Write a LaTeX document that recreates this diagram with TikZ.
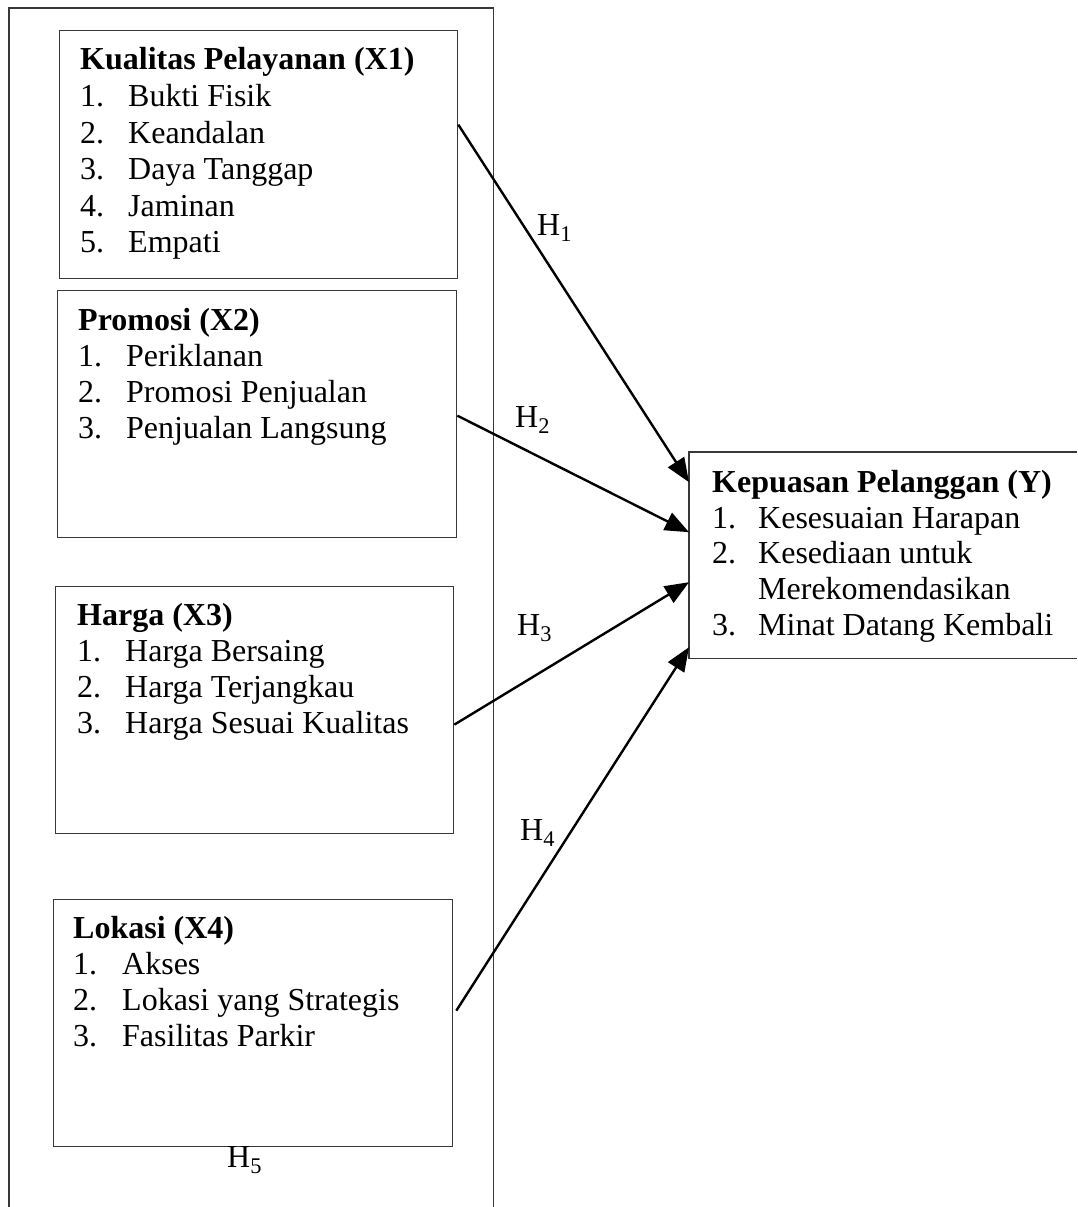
\documentclass[tikz,border=0pt]{standalone}
\usepackage{fontspec}
\setmainfont{Liberation Serif}
\usetikzlibrary{arrows.meta}
\begin{document}
\begin{tikzpicture}[x=1pt,y=-1pt,
  boxline/.style={line width=1.3pt, draw=black!78},
  varbox/.style={boxline, rectangle, inner sep=0pt, anchor=north west},
  lbl/.style={anchor=base west, inner sep=0pt, font=\fontsize{32}{36}\selectfont},
  hd/.style={lbl, font=\fontsize{32}{36}\selectfont\bfseries},
  arr/.style={line width=2.4pt, -{Triangle[length=24pt,width=19pt]}}]
\useasboundingbox[fill=white] (0,0) rectangle (1077,1207);

% outer frame (open at bottom)
\node[inner sep=0pt, anchor=north west, minimum width=484pt, minimum height=1199pt] (outer) at (9,8) {};
\draw[boxline] (outer.south west) -- (outer.north west) -- (outer.north east) -- (outer.south east);

% boxes
\node[varbox, minimum width=398pt, minimum height=248pt] (x1) at (59,30) {};
\node[varbox, minimum width=399pt, minimum height=247pt] (x2) at (57,290) {};
\node[varbox, minimum width=398pt, minimum height=247pt] (x3) at (55,586) {};
\node[varbox, minimum width=399pt, minimum height=247pt] (x4) at (53,899) {};
\node[inner sep=0pt, anchor=north west, minimum width=388pt, minimum height=206pt] (y) at (689,452) {};
\draw[boxline] (y.north east) -- (y.north west) -- (y.south west) -- (y.south east);

% X1 text
\node[hd] (x1h) at (80,70) {Kualitas Pelayanan (X1)};
\node[lbl] (x1n1) at (80,106.5) {1.};  \node[lbl] (x1t1) at (128,106.5) {Bukti Fisik};
\node[lbl] (x1n2) at (80,143) {2.};    \node[lbl] (x1t2) at (128,143) {Keandalan};
\node[lbl] (x1n3) at (80,179.5) {3.};  \node[lbl] (x1t3) at (128,179.5) {Daya Tanggap};
\node[lbl] (x1n4) at (80,216) {4.};    \node[lbl] (x1t4) at (128,216) {Jaminan};
\node[lbl] (x1n5) at (80,252.5) {5.};  \node[lbl] (x1t5) at (128,252.5) {Empati};

% X2 text
\node[hd] (x2h) at (78,330) {Promosi (X2)};
\node[lbl] (x2n1) at (78,366) {1.};  \node[lbl] (x2t1) at (126,366) {Periklanan};
\node[lbl] (x2n2) at (78,402) {2.};  \node[lbl] (x2t2) at (126,402) {Promosi Penjualan};
\node[lbl] (x2n3) at (78,438) {3.};  \node[lbl] (x2t3) at (126,438) {Penjualan Langsung};

% X3 text
\node[hd] (x3h) at (77,625) {Harga (X3)};
\node[lbl] (x3n1) at (77,661) {1.};  \node[lbl] (x3t1) at (125,661) {Harga Bersaing};
\node[lbl] (x3n2) at (77,697) {2.};  \node[lbl] (x3t2) at (125,697) {Harga Terjangkau};
\node[lbl] (x3n3) at (77,733) {3.};  \node[lbl] (x3t3) at (125,733) {Harga Sesuai Kualitas};

% X4 text
\node[hd] (x4h) at (73,938) {Lokasi (X4)};
\node[lbl] (x4n1) at (73,974) {1.};   \node[lbl] (x4t1) at (122,974) {Akses};
\node[lbl] (x4n2) at (73,1010) {2.};  \node[lbl] (x4t2) at (122,1010) {Lokasi yang Strategis};
\node[lbl] (x4n3) at (73,1046) {3.};  \node[lbl] (x4t3) at (122,1046) {Fasilitas Parkir};

% Y text
\node[hd] (yh) at (712,492) {Kepuasan Pelanggan (Y)};
\node[lbl] (yn1) at (712,528) {1.};  \node[lbl] (yt1) at (758,528) {Kesesuaian Harapan};
\node[lbl] (yn2) at (712,563) {2.};  \node[lbl] (yt2) at (758,563) {Kesediaan untuk};
\node[lbl] (yt2b) at (758,599) {Merekomendasikan};
\node[lbl] (yn3) at (712,635) {3.};  \node[lbl] (yt3) at (758,635) {Minat Datang Kembali};

% arrows
\draw[arr] ([yshift=30pt]x1.east) -- ([yshift=73pt]y.west);
\draw[arr] ([yshift=-1.5pt]x2.east) -- ([yshift=23pt]y.west);
\draw[arr] ([yshift=-14.5pt]x3.east) -- ([yshift=-27pt]y.west);
\draw[arr] ([yshift=12.5pt,xshift=3pt]x4.east) -- ([yshift=-92pt]y.west);

% hypothesis labels
\node[lbl] (h1) at (537,235) {H\textsubscript{1}};
\node[lbl] (h2) at (515,427) {H\textsubscript{2}};
\node[lbl] (h3) at (517,635) {H\textsubscript{3}};
\node[lbl] (h4) at (520,840) {H\textsubscript{4}};
\node[lbl] (h5) at (227,1167) {H\textsubscript{5}};
\end{tikzpicture}
\end{document}
